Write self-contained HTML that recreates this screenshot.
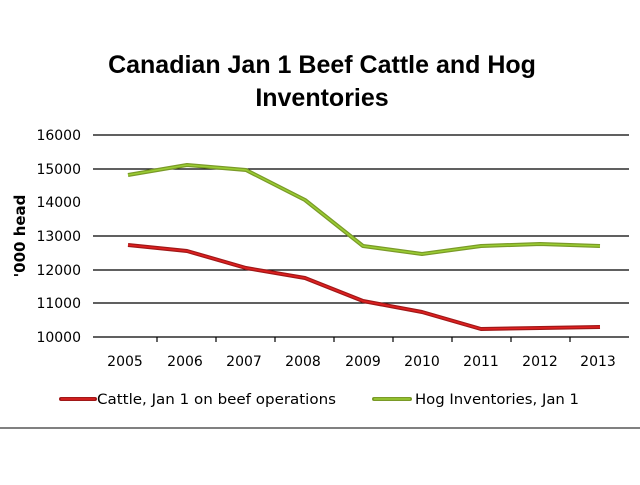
<!DOCTYPE html>
<html><head><style>body{margin:0;background:#fff}</style></head><body>
<svg width="640" height="480" xmlns="http://www.w3.org/2000/svg" font-family="DejaVu Sans, sans-serif">
<rect width="640" height="480" fill="#fff"/>
<g font-family="Liberation Sans, sans-serif">
<text x="322" y="73" text-anchor="middle" font-size="25" font-weight="bold">Canadian Jan 1 Beef Cattle and Hog</text>
<text x="322" y="106" text-anchor="middle" font-size="25" font-weight="bold">Inventories</text>
</g>
<g stroke="#000" stroke-width="1.2">
<line x1="93" x2="629" y1="135" y2="135"/><line x1="93" x2="629" y1="169" y2="169"/>
<line x1="93" x2="629" y1="236" y2="236"/><line x1="93" x2="629" y1="270" y2="270"/>
<line x1="93" x2="629" y1="303" y2="303"/><line x1="93" x2="629" y1="337" y2="337"/>
<line x1="157" x2="157" y1="337" y2="342"/><line x1="216" x2="216" y1="337" y2="342"/>
<line x1="275" x2="275" y1="337" y2="342"/><line x1="334" x2="334" y1="337" y2="342"/>
<line x1="393" x2="393" y1="337" y2="342"/><line x1="452" x2="452" y1="337" y2="342"/>
<line x1="511" x2="511" y1="337" y2="342"/><line x1="570" x2="570" y1="337" y2="342"/>
</g>
<g font-size="14" text-anchor="end">
<text x="81" y="140">16000</text><text x="81" y="174">15000</text><text x="81" y="207">14000</text>
<text x="81" y="241">13000</text><text x="81" y="275">12000</text><text x="81" y="308">11000</text><text x="81" y="342">10000</text>
</g>
<g font-size="14" text-anchor="middle">
<text x="125" y="366">2005</text><text x="185" y="366">2006</text><text x="244" y="366">2007</text>
<text x="303" y="366">2008</text><text x="363" y="366">2009</text><text x="422" y="366">2010</text>
<text x="481" y="366">2011</text><text x="540" y="366">2012</text><text x="598" y="366">2013</text>
</g>
<text transform="translate(25,236) rotate(-90)" text-anchor="middle" font-size="15" font-weight="bold">'000 head</text>
<polyline fill="none" stroke="#7a9a28" stroke-width="4" stroke-linejoin="round" points="128,175 187,165 246,170 305,200 363,246 422,254 481,246 540,244 600,246"/>
<polyline fill="none" stroke="#9acd32" stroke-width="1.5" stroke-linejoin="round" points="128,175 187,165 246,170 305,200 363,246 422,254 481,246 540,244 600,246"/>
<polyline fill="none" stroke="#a01818" stroke-width="4" stroke-linejoin="round" points="128,245 187,251 246,268 305,278 363,301 422,312 481,329 540,328 600,327"/>
<polyline fill="none" stroke="#e02020" stroke-width="1.5" stroke-linejoin="round" points="128,245 187,251 246,268 305,278 363,301 422,312 481,329 540,328 600,327"/>
<line x1="61" x2="95" y1="399" y2="399" stroke="#a01818" stroke-width="4" stroke-linecap="round"/>
<line x1="61" x2="95" y1="399" y2="399" stroke="#e02020" stroke-width="1.5"/>
<text x="97" y="404" font-size="14" textLength="239" lengthAdjust="spacingAndGlyphs">Cattle, Jan 1 on beef operations</text>
<line x1="374" x2="410" y1="399" y2="399" stroke="#7a9a28" stroke-width="4" stroke-linecap="round"/>
<line x1="374" x2="410" y1="399" y2="399" stroke="#9acd32" stroke-width="1.5"/>
<text x="415" y="404" font-size="14" textLength="164" lengthAdjust="spacingAndGlyphs">Hog Inventories, Jan 1</text>
<rect x="0" y="427" width="640" height="2" fill="#808080"/>
</svg>
</body></html>
